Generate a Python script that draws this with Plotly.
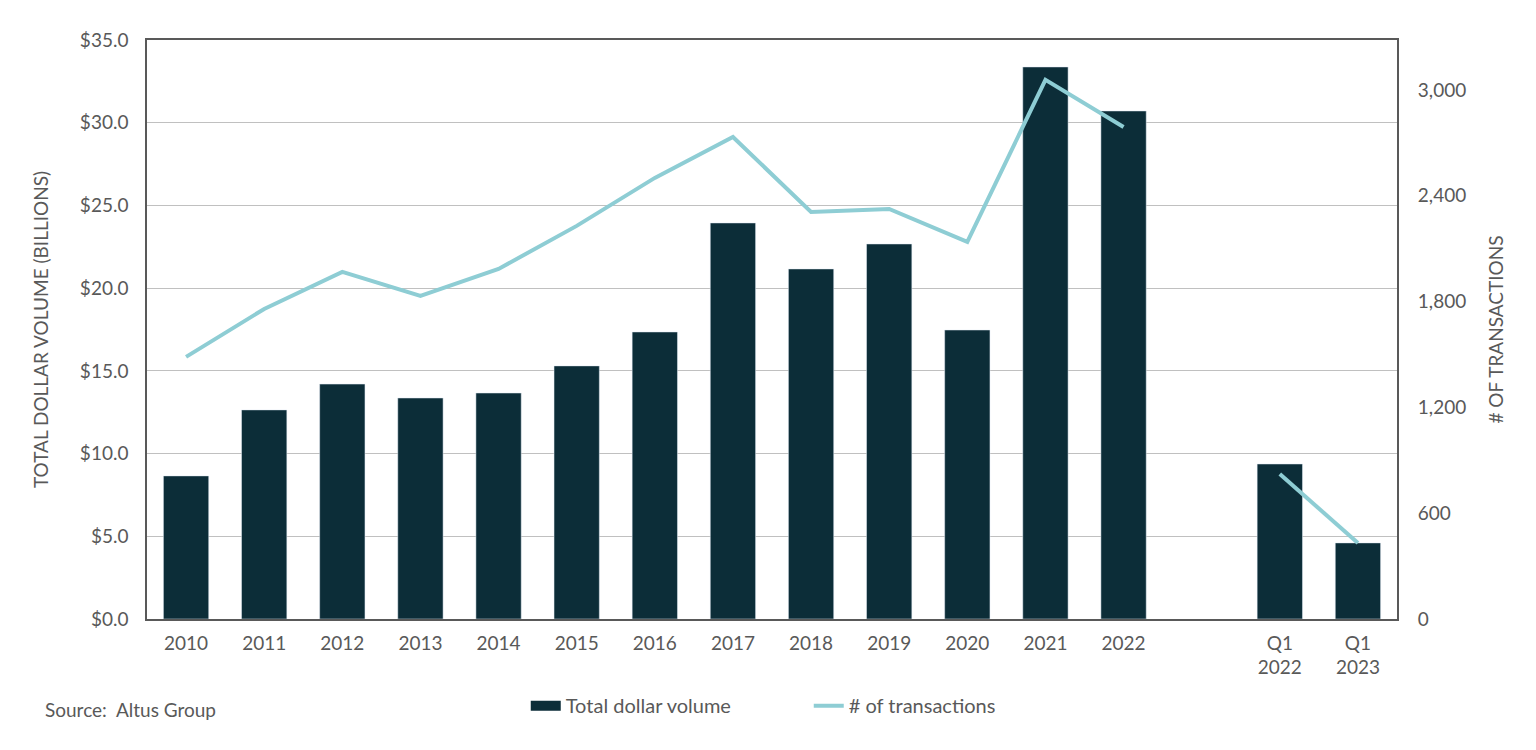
import plotly.graph_objects as go

categories = ["2010", "2011", "2012", "2013", "2014", "2015", "2016", "2017", "2018",
              "2019", "2020", "2021", "2022", " ", "Q1<br>2022", "Q1<br>2023"]
dollar_volume = [8.65, 12.64, 14.2, 13.36, 13.66, 15.3, 17.35, 23.94, 21.16,
                 22.67, 17.47, 33.37, 30.71, None, 9.37, 4.6]
transactions = [1486, 1758, 1968, 1832, 1985, 2229, 2501, 2733, 2308,
                2325, 2138, 3057, 2790, None, 822, 431]

left_ticks = [0, 5, 10, 15, 20, 25, 30, 35]
right_ticks = [0, 600, 1200, 1800, 2400, 3000]

FONT = "Lato, 'Open Sans', sans-serif"
GRAY = "#595959"
BAR = "#0c2d38"
LINE = "#8ecdd4"
FS = 19

fig = go.Figure()
fig.add_trace(go.Bar(x=categories, y=dollar_volume, name="Total dollar volume",
                     marker=dict(color=BAR), width=0.58, showlegend=False))
# legend-only proxy so the legend key is a wide rectangle like the reference
fig.add_trace(go.Scatter(x=[None], y=[None], name="Total dollar volume", mode="lines",
                         line=dict(color=BAR, width=11)))
fig.add_trace(go.Scatter(x=categories, y=transactions, name="# of transactions",
                         mode="lines", line=dict(color=LINE, width=4),
                         connectgaps=False, yaxis="y2"))

fig.update_layout(
    width=1520, height=734,
    margin=dict(l=139, r=131, t=32, b=123),
    paper_bgcolor="white", plot_bgcolor="white",
    font=dict(family=FONT, color=GRAY, size=FS),
    xaxis=dict(type="category", showline=True, linecolor=GRAY, linewidth=1.5, mirror=True,
               ticks="outside", ticklen=6, tickcolor="rgba(0,0,0,0)",
               tickfont=dict(size=FS), showgrid=False, automargin=False),
    yaxis=dict(range=[0, 35], tickvals=left_ticks,
               ticktext=["$%.1f" % v for v in left_ticks],
               showgrid=True, gridcolor="#c0c0c0", gridwidth=1,
               showline=True, linecolor=GRAY, linewidth=1.5, mirror=True,
               ticks="outside", ticklen=13, tickcolor="rgba(0,0,0,0)",
               title=dict(text="TOTAL DOLLAR VOLUME (BILLIONS)", font=dict(size=FS), standoff=26),
               zeroline=False, automargin=False),
    yaxis2=dict(range=[0, 3283], overlaying="y", side="right", tickvals=right_ticks,
                ticktext=[f"{v:,}" for v in right_ticks], showgrid=False, zeroline=False,
                title=dict(text="# OF TRANSACTIONS", font=dict(size=FS), standoff=24),
                ticks="outside", ticklen=16, tickcolor="rgba(0,0,0,0)", automargin=False),
    legend=dict(orientation="h", x=0.303, xanchor="left", y=-0.116, yanchor="top",
                font=dict(size=20), entrywidth=238, traceorder="normal"),
    annotations=[dict(text="Source:  Altus Group", xref="paper", yref="paper",
                      x=-0.083, y=-0.133, xanchor="left", yanchor="top",
                      showarrow=False, font=dict(size=FS, color=GRAY))],
)

fig.write_html("out.html")
